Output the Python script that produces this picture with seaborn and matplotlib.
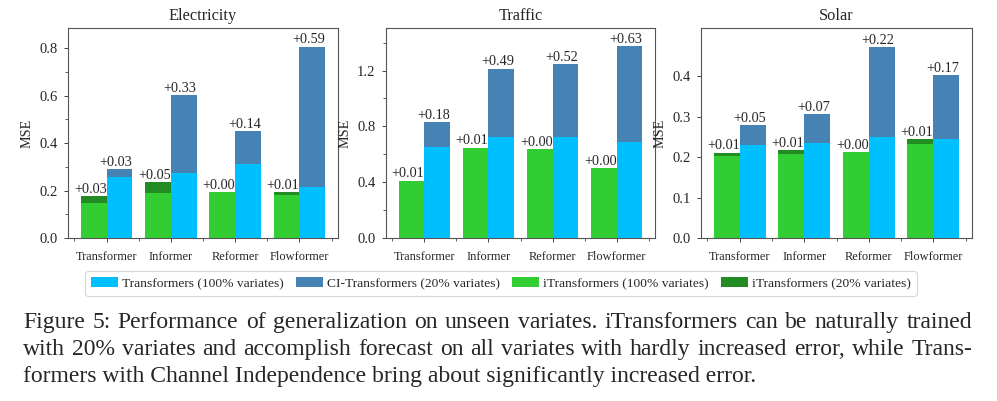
import numpy as np
import pandas as pd
import matplotlib
matplotlib.use("Agg")
import matplotlib.pyplot as plt
from matplotlib.patches import Patch
from matplotlib.ticker import MultipleLocator, FixedLocator, NullLocator
import seaborn as sns

sns.set_style("white")
plt.rcParams["font.family"] = ["Liberation Serif", "DejaVu Serif"]

models = ["Transformer", "Informer", "Reformer", "Flowformer"]
datasets = ["Electricity", "Traffic", "Solar"]

# iTransformers (100% variates) / (20% variates)
itrans_100 = {
    "Electricity": [0.148, 0.188, 0.193, 0.183],
    "Traffic": [0.405, 0.643, 0.636, 0.499],
    "Solar": [0.203, 0.209, 0.212, 0.234],
}
itrans_20 = {
    "Electricity": [0.177, 0.236, 0.194, 0.194],
    "Traffic": [0.410, 0.648, 0.638, 0.500],
    "Solar": [0.211, 0.218, 0.213, 0.244],
}
# Transformers (100% variates) / CI-Transformers (20% variates)
trans_100 = {
    "Electricity": [0.259, 0.273, 0.312, 0.214],
    "Traffic": [0.653, 0.725, 0.725, 0.690],
    "Solar": [0.230, 0.236, 0.249, 0.245],
}
ci_trans_20 = {
    "Electricity": [0.291, 0.602, 0.451, 0.806],
    "Traffic": [0.829, 1.214, 1.246, 1.375],
    "Solar": [0.279, 0.307, 0.472, 0.403],
}
itrans_delta = {
    "Electricity": ["+0.03", "+0.05", "+0.00", "+0.01"],
    "Traffic": ["+0.01", "+0.01", "+0.00", "+0.00"],
    "Solar": ["+0.01", "+0.01", "+0.00", "+0.01"],
}
trans_delta = {
    "Electricity": ["+0.03", "+0.33", "+0.14", "+0.59"],
    "Traffic": ["+0.18", "+0.49", "+0.52", "+0.63"],
    "Solar": ["+0.05", "+0.07", "+0.22", "+0.17"],
}
ylims = {"Electricity": 0.885, "Traffic": 1.505, "Solar": 0.52}
yticks = {
    "Electricity": [0.0, 0.2, 0.4, 0.6, 0.8],
    "Traffic": [0.0, 0.4, 0.8, 1.2],
    "Solar": [0.0, 0.1, 0.2, 0.3, 0.4],
}
yminor = {"Electricity": 0.1, "Traffic": 0.2, "Solar": None}

legend_labels = ["Transformers (100% variates)", "CI-Transformers (20% variates)",
                 "iTransformers (100% variates)", "iTransformers (20% variates)"]

C_LB, C_DB, C_LG, C_DG = "#00BFFF", "#4682B4", "#32CD32", "#228B22"

W, H = 997, 401
fig = plt.figure(figsize=(W / 100, H / 100), dpi=100)

boxes = [(68, 338), (386, 655), (701, 972)]
top_px, bot_px = 28, 238

for (l, r), name in zip(boxes, datasets):
    ax = fig.add_axes([l / W, (H - bot_px) / H, (r - l) / W, (bot_px - top_px) / H])
    rows = []
    for i, m in enumerate(models):
        rows.append(dict(model=m, family="iTransformer",
                         v20=itrans_20[name][i], v100=itrans_100[name][i]))
        rows.append(dict(model=m, family="Transformer",
                         v20=ci_trans_20[name][i], v100=trans_100[name][i]))
    df = pd.DataFrame(rows)
    hue_order = ["iTransformer", "Transformer"]
    sns.barplot(data=df, x="model", y="v20", hue="family", hue_order=hue_order,
                order=models, palette={"iTransformer": C_DG, "Transformer": C_DB},
                saturation=1, width=0.8, linewidth=0, legend=False, ax=ax, errorbar=None)
    dark_containers = list(ax.containers)
    sns.barplot(data=df, x="model", y="v100", hue="family", hue_order=hue_order,
                order=models, palette={"iTransformer": C_LG, "Transformer": C_LB},
                saturation=1, width=0.8, linewidth=0, legend=False, ax=ax, errorbar=None)
    for cont, labs in zip(dark_containers, [itrans_delta[name], trans_delta[name]]):
        anns = ax.bar_label(cont, labels=labs, padding=0.5, fontsize=10.3)
        for a in anns:
            a.xyann = (-2.5, 0.3)
    ax.set_xlim(-0.6, 3.6)
    ax.yaxis.set_major_locator(FixedLocator(yticks[name]))
    if yminor[name]:
        ax.yaxis.set_minor_locator(MultipleLocator(yminor[name]))
    else:
        ax.yaxis.set_minor_locator(NullLocator())
    ax.set_yticklabels([f"{v:.1f}" for v in yticks[name]])
    ax.set_ylim(0, ylims[name])
    ax.xaxis.set_minor_locator(MultipleLocator(0.5))
    ax.tick_params(axis="both", which="major", direction="out", length=3, width=0.7,
                   color="#444444", labelsize=10.5, pad=4.5, bottom=True, left=True)
    ax.tick_params(axis="both", which="minor", direction="out", length=2, width=0.6,
                   color="#444444", bottom=True, left=True)
    ax.tick_params(axis="x", which="major", labelsize=8.9, pad=6.5)
    ax.set_xlabel("")
    ax.set_ylabel("MSE", fontsize=10.2, labelpad=4)
    ax.set_title(name, fontsize=11.8, pad=6)
    for s in ax.spines.values():
        s.set_color("#555555")
        s.set_linewidth(0.8)

handles = [Patch(facecolor=c, edgecolor="none") for c in [C_LB, C_DB, C_LG, C_DG]]
leg = fig.legend(handles, legend_labels, loc="center", bbox_to_anchor=(501 / W, (H - 283.5) / H),
                 ncol=4, fontsize=9.7, frameon=True, handlelength=2.0, handleheight=0.75,
                 handletextpad=0.3, columnspacing=0.9, borderpad=0.45, fancybox=True)
leg.get_frame().set_edgecolor("#cccccc")
leg.get_frame().set_linewidth(0.8)

caption = [
    "Figure 5: Performance of generalization on unseen variates. iTransformers can be naturally trained",
    "with 20% variates and accomplish forecast on all variates with hardly increased error, while Trans-",
    "formers with Channel Independence bring about significantly increased error.",
]
baselines = [328, 355, 382]
x0, x1 = 23, 972
fs = 17.0
renderer = fig.canvas.get_renderer()
for k, (line, yb) in enumerate(zip(caption, baselines)):
    if k < 2:
        words = line.split(" ")
        texts = [fig.text(0, (H - yb) / H, w, fontsize=fs, va="baseline", ha="left") for w in words]
        widths = [t.get_window_extent(renderer).width for t in texts]
        gap = (x1 - x0 - sum(widths)) / (len(words) - 1)
        x = x0
        for t, w in zip(texts, widths):
            t.set_x(x / W)
            x += w + gap
    else:
        fig.text(x0 / W, (H - yb) / H, line, fontsize=fs, va="baseline", ha="left")

fig.savefig("out.png", dpi=100)
